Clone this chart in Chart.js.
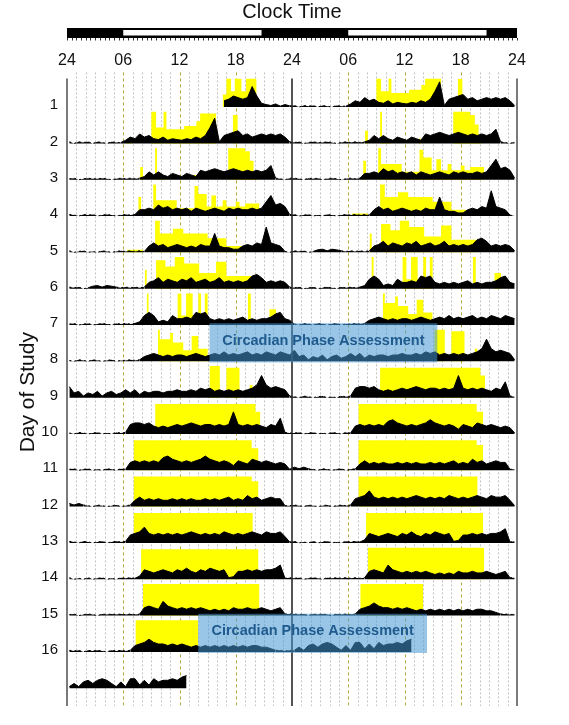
<!DOCTYPE html>
<html>
<head>
<meta charset="utf-8">
<script src="https://cdn.jsdelivr.net/npm/chart.js@4.4.1/dist/chart.umd.min.js"></script>
<style>
html,body{margin:0;padding:0;background:#fff;}
canvas{display:block;}
</style>
</head>
<body>
<canvas id="c" width="569" height="725"></canvas>
<script>
// ---------------- DATA ----------------
const clockLabels = ['24','06','12','18','24','06','12','18','24'];
const dayLabels = ['1','2','3','4','5','6','7','8','9','10','11','12','13','14','15','16'];
// dark periods of the light/dark schedule (hours on the 48 h double-plot axis)
const darkPeriods = [[0,6],[20.75,30],[44.75,48]];
const phaseAssessments = [
  {row:8,  start:15.2, end:39.5, label:'Circadian Phase Assessment'},
  {row:16, start:14.0, end:38.4, label:'Circadian Phase Assessment'}
];
// light exposure per day: [start hour, end hour, level 0-10]
const lightByDay = [
  [[16.6,17.0,4],[17.0,17.5,10],[17.5,17.9,5],[17.9,18.6,10],[18.6,19.1,5],[19.1,20.2,10],[20.2,20.5,2.5]],
  [[6.3,7.0,0.8],[9.0,9.5,10],[9.5,10.3,5],[10.3,10.6,10],[10.6,12.5,4.5],[12.5,13.8,5.5],[13.8,14.2,7],[14.2,15.9,9.5],[17.7,18.2,9]],
  [[7.8,8.1,4],[9.4,9.6,10],[9.6,10.5,1],[13.5,13.8,1.5],[17.2,19.0,10],[19.0,19.5,9],[19.5,19.9,6],[19.9,20.3,2]],
  [[7.6,7.9,6],[9.2,9.5,10],[9.5,11.7,5],[11.7,13.6,2.5],[13.6,14.0,9.5],[14.0,14.9,7],[14.9,15.4,3],[15.4,15.9,6.5],[15.9,16.6,3],[16.6,17.0,5],[17.0,18.0,3],[18.0,18.4,4.5],[18.4,19.0,3],[19.0,20.5,4]],
  [[6.4,8.1,0.8],[9.4,9.9,10],[9.9,11.3,6],[11.3,12.4,7.5],[12.4,15.0,6],[15.0,17.0,4.5],[17.0,18.6,2]],
  [[8.3,8.5,6],[9.5,10.5,9],[10.5,11.5,7],[11.5,12.5,10],[12.5,14.1,8],[14.1,15.9,5],[15.9,17.0,8.5],[17.0,19.8,4]],
  [[8.5,8.7,10],[11.8,12.2,10],[12.2,12.7,3],[12.7,13.4,10],[13.4,14.0,3],[14.0,14.3,10],[14.3,14.7,3],[14.7,15.0,10],[19.3,19.6,10],[21.6,22.3,5]],
  [[9.7,9.9,10],[9.9,11.0,7],[11.0,11.3,9],[11.3,12.4,6],[12.4,13.3,3.5],[13.3,14.0,8],[14.0,15.0,4]],
  [[15.2,16.3,10],[17.0,18.4,9.5],[19.5,19.8,4]],
  [[9.4,20.1,9.5],[20.1,20.6,7]],
  [[7.1,19.7,9.5],[19.7,20.4,7]],
  [[7.1,19.7,9.5],[19.7,20.4,8]],
  [[7.1,19.8,9.5]],
  [[7.9,20.4,9.5]],
  [[8.1,20.5,10]],
  [[7.3,14.0,10]],
  []
];
// activity counts per day, 48 half-hour bins (0-10 scale), null = not recorded
const activityByDay = [
  [null,null,null,null,null,null,null,null,null,null,null,null,
   null,null,null,null,null,null,null,null,null,null,null,null,
   null,null,null,null,null,null,null,null,null,2,2.5,3.5,
   3,2.5,3,6.5,3.5,1.2,0.8,0.5,1,0.3,0.8,0.4],
  [0.5,0,0.5,0.3,0.5,0,0.5,0.3,0,0.5,0.3,0.3,
   1,2,1.5,3,2,2.5,1.5,1.2,2,1,1.5,1.2,
   1,1.5,1.2,2,1.5,2.5,5,8,0.5,2.5,3,3.5,
   4,2.5,3,2,2.5,3,2.5,3,2.5,3,2,0.5],
  [0.3,0.5,0,0.3,0.5,0.3,0.3,0.5,0.3,0,0.3,0.5,
   0.3,0.5,0.3,0.5,1,2.5,1.5,2.5,1.5,1,2,1.5,
   1,2,1.5,1,3,2.5,3,3.5,3,2.5,3,3.5,
   3,2.5,3,2.5,3,2.5,3,4.5,0.5,0.3,0,0.5],
  [0.5,0.3,0,0.5,0.3,0.5,0,0.3,0.5,0.3,0,0.3,
   0.5,0.3,0.5,2,2,2.5,2,3.5,2.5,3,2,2.5,
   2,2.5,1.5,2.5,2,1.5,2,2.5,2,1.5,2.5,2,
   2.5,2,2,2.5,2,2.5,4.5,6.5,3.5,4,3,0.5],
  [0.5,0,0.3,0.5,0,0.3,0,0.5,0.3,0,0.3,0.5,
   0.3,0.5,0.3,0.5,0.3,2,3,2,2.5,1.5,2,2.5,
   2,1.5,2,1.5,2.5,2,2,6,2,1.5,1.5,1,
   1,2,2.5,2,3,2.5,8,3,2.5,2,0.3,0],
  [0.5,0.3,0.5,0,0.3,0.8,1,0.5,1,0.8,0.5,0.3,
   0.5,0.3,0.5,0.3,0.5,2,2.5,3.5,2,3,2.5,2,
   3,2.5,3.5,2,2.5,3,2,2.5,3.5,2,2.5,2,
   2.5,2,2.5,4,4.5,3.5,2,2.5,2,2.5,2,0.5],
  [0.3,0.5,0,0.3,0.5,0,0.3,0.5,0.3,0,0.5,0.3,
   0.5,0.3,0.5,1,3,4,3,1,1.5,1,3,2,
   2,2.5,2,4,3.5,4,2,1.5,2,1.5,2,1.5,
   2,2.5,1.5,2,1.5,2,2,2.5,3.5,4,2,1.5],
  [0.3,0,0.5,0.3,0,0.5,0.3,0,0.3,0.5,0,0.3,
   0.3,0.5,0.3,0.5,1.5,2,2.5,2,1.5,2,1.5,2,
   2,1.5,2,2.5,2,1.5,2,2.5,2,3,2,2.5,
   2,2.5,3,2,2.5,2,3,2.5,2,3,2.5,2],
  [3.5,1.5,2,0.5,1.5,1,2,0.5,1.5,2,1,1.5,
   2.5,1.5,2.5,1,2,1.5,2,2,1.5,2,2,2.5,
   2,2,2.5,2,3,2.5,3,2,2.5,2,2.5,2,
   2.5,2,2.5,3,4,7,4,3,3.5,3,2.5,0.5],
  [0.3,0,0.5,0.3,0,0.3,0.5,0,0.3,0,0.5,0.3,
   0.5,3,3.5,3.5,3,3.5,2.5,2,2.5,2,2.5,3,
   2.5,3,3.5,3,2.5,3,3,2.5,3,2.5,3,7,
   3,2.5,3,2.5,3,2.5,2,3,2.5,5,0.5,0.3],
  [0.3,0.5,0,0.3,0.5,0,0.3,0,0.5,0.3,0,0.5,
   0.3,2.5,3,2.5,3,2.5,3,2.5,4,4.5,3.5,3,
   2.5,3,2.5,3,3.5,4.5,3.5,3,2.5,3,2.5,1.5,
   3,2.5,2,3.5,3,2.5,3,2.5,2,2.5,2,0.3],
  [1,0.5,1,0.5,0.3,0,0.5,0.3,0,0.3,0.5,0,
   0.3,0.5,2,3,2,2.5,2,2.5,2,2,2.5,2,
   2.5,2,2.5,2,2,2.5,2,2.5,2,2.5,3,2,
   2.5,2,3.5,2.5,3,2,2.5,3,2.5,2.5,0.3,0.3],
  [0.5,0.3,0,0.5,0.3,0,0.3,0.5,0,0.3,0.5,0.3,
   0.5,2.5,3,3.5,5,3,2.5,3,2.5,3,2.5,3,
   2.5,3,3.5,3,2.5,3,2.5,3,2.5,3.5,3,2.5,
   3,2.5,3,3.5,3,2.5,3.5,3,3,3.5,2,0.3],
  [0.5,0,0.3,0,0.5,0,0.3,0.5,0,0.3,0,0.5,
   0.3,0.5,0.3,1,3,2.5,2,2.5,3,2.5,2,3,
   2.5,3.5,2.5,2,3,2.5,3.5,3,2.5,3,0.5,0.8,
   2.5,2.5,3,2.5,3,2.5,3,3,3.5,4.5,0.3,0.5],
  [0.3,0.5,0,0.3,0.5,0.3,0,0.5,0.3,0.5,0.3,0.5,
   0.3,0.5,0.3,0.5,2.5,3,2.5,2,4.5,3,2.5,2,
   2.5,2,2.5,2,2.5,2,1.5,2,1.5,2,1.5,2.5,
   2,2,2.5,2,2,2.5,2,1.5,2,2.5,0.5,0.5],
  [0.5,0.3,0.5,0,0.5,0.3,0.5,0.3,0,0.5,0.3,0.5,
   0.3,0.5,2,2.5,3,4,3,2.5,2.5,2,2.5,2,
   2.5,2,1.5,2,1.5,2,1.5,2,1.5,2,1.5,2,
   1.5,2,1.5,2,2,1.5,1.5,1,0.5,0.5,0.3,0.5],
  [0.5,1.5,0.5,2,2.5,1.5,2.5,3,2.5,1.5,0.5,2,
   0.5,3,3,1,2.5,1,3,2,2.5,2.5,3,2.5,
   3.5,4,null,null,null,null,null,null,null,null,null,null,
   null,null,null,null,null,null,null,null,null,null,null,null]
];

// ---------------- BUILD ----------------
const NROWS = 17;
const K = 32 / 36.8 / 10;  // row fraction per unit of level
const datasets = [];
for (let r = 1; r <= NROWS; r++) {
  const left = r - 1, right = r;
  const ypts = [];
  const addLight = (blocks, off) => blocks.forEach(([s, e, v]) => {
    ypts.push({x: s + off, y: r}, {x: s + off, y: r - v * K}, {x: e + off, y: r - v * K}, {x: e + off, y: r});
  });
  addLight(lightByDay[left], 0);
  if (r < NROWS) addLight(lightByDay[right], 24);
  datasets.push({
    type: 'line', data: ypts, borderWidth: 0, borderColor: 'rgba(0,0,0,0)',
    backgroundColor: '#ffff00', pointRadius: 0, fill: {value: r}, order: 2, tension: 0
  });
  const apts = [];
  const addAct = (arr, off) => arr.forEach((v, i) => {
    apts.push({x: off + i * 0.5 + 0.25, y: v === null ? null : r - v * K, v: v});
  });
  addAct(activityByDay[left], 0);
  if (r < NROWS) addAct(activityByDay[right], 24);
  datasets.push({
    type: 'line', data: apts, borderWidth: 1, borderColor: '#000', backgroundColor: '#000',
    pointRadius: 0, fill: {value: r}, order: 1, tension: 0, spanGaps: false,
    segment: {
      borderDash: ctx => {
        const d = ctx.chart.data.datasets[ctx.datasetIndex].data;
        const a = d[ctx.p0DataIndex], b = d[ctx.p1DataIndex];
        return (a && b && a.v <= 0.5 && b.v <= 0.5) ? [2, 3] : undefined;
      }
    }
  });
}

const actogramPlugin = {
  id: 'actogram',
  beforeDatasetsDraw(chart) {
    const {ctx, chartArea: a, scales: {x}} = chart;
    ctx.save();
    for (let h = 1; h < 48; h++) {
      if (h === 24) continue;
      const px = Math.round(x.getPixelForValue(h)) + 0.5;
      const major = h % 6 === 0;
      ctx.strokeStyle = major ? '#b0a83c' : '#c2c2c2';
      ctx.lineWidth = 1;
      ctx.setLineDash(major ? [3, 3] : [2, 2]);
      ctx.beginPath(); ctx.moveTo(px, a.top - 6); ctx.lineTo(px, a.bottom); ctx.stroke();
    }
    ctx.restore();
  },
  afterDatasetsDraw(chart) {
    const {ctx, chartArea: a, scales: {x, y}} = chart;
    ctx.save();
    ctx.setLineDash([]);
    ctx.strokeStyle = '#7a7a7a'; ctx.lineWidth = 2;
    [0, 48].forEach(h => {
      const px = x.getPixelForValue(h);
      ctx.beginPath(); ctx.moveTo(px, a.top); ctx.lineTo(px, a.bottom); ctx.stroke();
    });
    ctx.strokeStyle = '#2a2a2a'; ctx.lineWidth = 1.6;
    const pm = x.getPixelForValue(24);
    ctx.beginPath(); ctx.moveTo(pm, a.top); ctx.lineTo(pm, a.bottom); ctx.stroke();
    phaseAssessments.forEach(p => {
      const x0 = x.getPixelForValue(p.start), x1 = x.getPixelForValue(p.end);
      const y0 = y.getPixelForValue(p.row - 1 - 0.05), y1 = y.getPixelForValue(p.row + 0.03);
      ctx.fillStyle = 'rgba(70,150,210,0.55)';
      ctx.fillRect(x0, y0, x1 - x0, y1 - y0);
      ctx.fillStyle = '#1f5b8e';
      ctx.font = "bold 14.5px 'Liberation Sans', Arial, sans-serif";
      ctx.textAlign = 'center'; ctx.textBaseline = 'middle';
      ctx.fillText(p.label, (x0 + x1) / 2, (y0 + y1) / 2 - 2);
    });
    ctx.restore();
  },
  afterDraw(chart) {
    const {ctx, scales: {x}} = chart;
    const top = 28, bot = 38;
    const xl = x.getPixelForValue(0), xr = x.getPixelForValue(48);
    ctx.save();
    ctx.fillStyle = '#000';
    ctx.fillRect(xl, top, xr - xl, bot - top);
    for (let i = 0; i < darkPeriods.length - 1; i++) {
      const s = x.getPixelForValue(darkPeriods[i][1]), e = x.getPixelForValue(darkPeriods[i + 1][0]);
      ctx.fillStyle = '#fff';
      ctx.fillRect(s, top + 2, e - s, bot - top - 4.5);
    }
    ctx.strokeStyle = '#333'; ctx.lineWidth = 1;
    for (let h = 0; h <= 48; h += 0.5) {
      const px = Math.round(x.getPixelForValue(h)) + 0.5;
      ctx.beginPath(); ctx.moveTo(px, bot); ctx.lineTo(px, bot + 2.5); ctx.stroke();
    }
    ctx.restore();
  }
};

Chart.defaults.font.family = "'Liberation Sans', Arial, sans-serif";
Chart.defaults.color = '#111';

new Chart(document.getElementById('c'), {
  type: 'line',
  data: {datasets},
  options: {
    responsive: false, devicePixelRatio: 1, animation: false, events: [],
    layout: {padding: {top: 0, left: 0, right: 52, bottom: 19}},
    plugins: {
      legend: {display: false}, tooltip: {enabled: false},
      title: {display: true, text: 'Clock Time', fullSize: false, color: '#111',
        font: {size: 20, weight: 'normal'}, padding: {top: 0, bottom: 18.4}}
    },
    scales: {
      x: {
        type: 'linear', position: 'top', min: 0, max: 48,
        grid: {display: false, drawTicks: false}, border: {display: false},
        ticks: {stepSize: 1, autoSkip: false, maxRotation: 0, padding: 8.4,
          color: '#111', font: {size: 16},
          callback: v => (v % 6 === 0 ? clockLabels[v / 6] : '')}
      },
      y: {
        type: 'linear', position: 'left', min: 0.21, max: 17.49, reverse: true,
        grid: {display: false, drawTicks: false}, border: {display: false},
        afterBuildTicks: s => { s.ticks = dayLabels.map((l, i) => ({value: i + 1 - 0.055})); },
        afterFit: s => { s.width = 67; },
        ticks: {padding: 9, autoSkip: false, color: '#111', font: {size: 15},
          callback: (v, i) => dayLabels[i]},
        title: {display: true, text: 'Day of Study', color: '#111', font: {size: 21},
          padding: {top: 16, bottom: 0}}
      }
    }
  },
  plugins: [actogramPlugin]
});
</script>
</body>
</html>
